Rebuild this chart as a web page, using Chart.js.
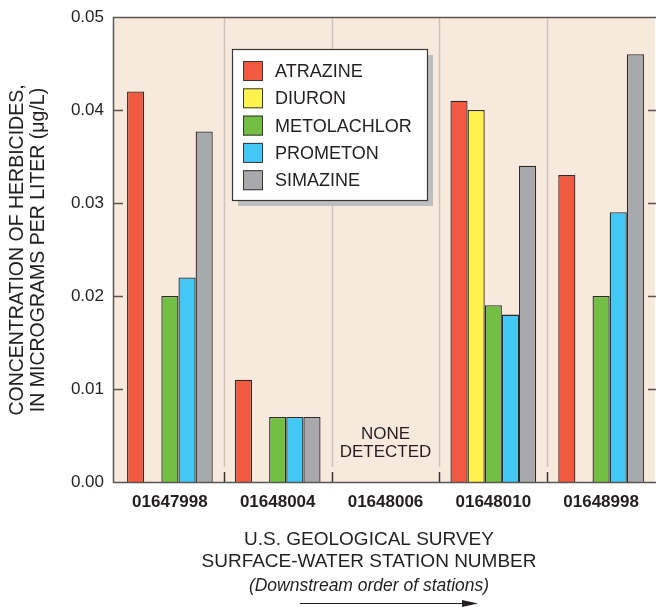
<!DOCTYPE html>
<html>
<head>
<meta charset="utf-8">
<script src="https://cdn.jsdelivr.net/npm/chart.js@4"></script>
<style>
  html, body { margin: 0; padding: 0; background: #ffffff; }
  #wrap { width: 656px; height: 607px; position: relative; }
</style>
</head>
<body>
<div id="wrap"><canvas id="c" width="656" height="607"></canvas></div>
<script>
// ---- data ----
const categories = ['01647998', '01648004', '01648006', '01648010', '01648998'];
const seriesNames = ['ATRAZINE', 'DIURON', 'METOLACHLOR', 'PROMETON', 'SIMAZINE'];
const atrazine    = [0.042, 0.011, null, 0.041, 0.033];
const diuron      = [null,  null,  null, 0.040, null];
const metolachlor = [0.020, 0.007, null, 0.019, 0.020];
const prometon    = [0.022, 0.007, null, 0.018, 0.029];
const simazine    = [0.0377, 0.007, null, 0.034, 0.046];
const yTickValues = [0, 0.01, 0.02, 0.03, 0.04, 0.05];
const noneDetectedCategory = '01648006';
const noneDetectedLines = ['NONE', 'DETECTED'];
const yTitleLines = ['CONCENTRATION OF HERBICIDES,', 'IN MICROGRAMS PER LITER (\u03BCg/L)'];
const xTitleLines = ['U.S. GEOLOGICAL SURVEY', 'SURFACE-WATER STATION NUMBER'];
const xSubtitle = '(Downstream order of stations)';

// ---- styles ----
const colors = ['#f15a40', '#fff24f', '#72bf44', '#43c7f4', '#a7a9ac'];
const FONT = '"Liberation Sans", Arial, Helvetica, sans-serif';
const TEXT = '#231f20';
const AXIS = '#5a5553';
const AXIS_X = 113;

const seriesValues = [atrazine, diuron, metolachlor, prometon, simazine];
const datasets = seriesNames.map((n, i) => ({
  label: n,
  data: seriesValues[i],
  backgroundColor: colors[i],
  borderColor: '#2e2a28',
  borderWidth: 1.3,
  borderSkipped: 'bottom',
  categoryPercentage: 0.795,
  barPercentage: 1.0
}));

const decor = {
  id: 'decor',
  beforeDraw(chart) {
    const { ctx, chartArea: a } = chart;
    ctx.save();
    ctx.fillStyle = '#f8e9dd';
    ctx.fillRect(AXIS_X, a.top, a.right - AXIS_X, a.bottom - a.top);
    ctx.restore();
  },
  beforeDatasetsDraw(chart) {
    const { ctx, chartArea: a, scales } = chart;
    const x = scales.x;
    ctx.save();
    for (let i = 1; i < categories.length; i++) {
      const px = Math.round((x.getPixelForTick(i - 1) + x.getPixelForTick(i)) / 2) + 0.5;
      ctx.strokeStyle = '#cbc4bd';
      ctx.lineWidth = 1.5;
      ctx.beginPath();
      ctx.moveTo(px, a.top);
      ctx.lineTo(px, a.bottom - 15);
      ctx.stroke();
      ctx.strokeStyle = '#3a3634';
      ctx.lineWidth = 1.5;
      ctx.beginPath();
      ctx.moveTo(px, a.bottom - 10);
      ctx.lineTo(px, a.bottom);
      ctx.stroke();
    }
    // NONE DETECTED
    const idx = categories.indexOf(noneDetectedCategory);
    const cx = x.getPixelForTick(idx);
    ctx.fillStyle = TEXT;
    ctx.font = '17px ' + FONT;
    ctx.textAlign = 'center';
    ctx.textBaseline = 'middle';
    ctx.fillText(noneDetectedLines[0], cx, a.bottom - 48);
    ctx.fillText(noneDetectedLines[1], cx, a.bottom - 30);
    ctx.restore();
  },
  afterDraw(chart) {
    const { ctx, chartArea: a, scales } = chart;
    const y = scales.y;
    ctx.save();
    // frame: top, left, bottom
    ctx.strokeStyle = AXIS;
    ctx.lineWidth = 1.5;
    const y0 = Math.round(y.getPixelForValue(0)) + 0.5;
    const yTop = Math.round(y.getPixelForValue(0.05)) + 0.5;
    ctx.beginPath();
    ctx.moveTo(a.right + 2, yTop);
    ctx.lineTo(AXIS_X + 0.5, yTop);
    ctx.lineTo(AXIS_X + 0.5, y0);
    ctx.lineTo(a.right + 2, y0);
    ctx.stroke();
    // inward ticks left & right
    yTickValues.forEach(v => {
      const py = Math.round(y.getPixelForValue(v)) + 0.5;
      if (v === 0 || v === 0.05) return;
      ctx.beginPath();
      ctx.moveTo(AXIS_X, py);
      ctx.lineTo(AXIS_X + 10, py);
      ctx.moveTo(a.right + 2, py);
      ctx.lineTo(a.right - 7, py);
      ctx.stroke();
    });
    // legend
    const lx = 232, ly = 49, lw = 195, lh = 151;
    ctx.fillStyle = '#bcbec0';
    ctx.fillRect(lx + 6, ly + 6, lw, lh);
    ctx.fillStyle = '#ffffff';
    ctx.fillRect(lx, ly, lw, lh);
    ctx.strokeStyle = '#3a3634';
    ctx.lineWidth = 1.2;
    ctx.strokeRect(lx + 0.5, ly + 0.5, lw, lh);
    chart.data.datasets.forEach((ds, i) => {
      const sy = 61 + i * 27.3;
      ctx.fillStyle = ds.backgroundColor;
      ctx.fillRect(243, sy, 20, 20);
      ctx.strokeStyle = '#3a3634';
      ctx.lineWidth = 1;
      ctx.strokeRect(243.5, sy + 0.5, 19, 19);
      ctx.fillStyle = TEXT;
      ctx.font = '18px ' + FONT;
      ctx.textAlign = 'left';
      ctx.textBaseline = 'middle';
      ctx.fillText(ds.label, 275, sy + 11);
    });
    // y title
    ctx.fillStyle = TEXT;
    ctx.font = '19.5px ' + FONT;
    ctx.textAlign = 'center';
    ctx.textBaseline = 'middle';
    ctx.save();
    ctx.translate(18, 250);
    ctx.rotate(-Math.PI / 2);
    ctx.fillText(yTitleLines[0], 0, 0);
    ctx.restore();
    ctx.save();
    ctx.translate(39, 250);
    ctx.rotate(-Math.PI / 2);
    ctx.fillText(yTitleLines[1], 0, 0);
    ctx.restore();
    // x titles
    const tx = 369;
    ctx.font = '19px ' + FONT;
    ctx.fillText(xTitleLines[0], tx, 540);
    ctx.fillText(xTitleLines[1], tx, 562);
    ctx.font = 'italic 17.5px ' + FONT;
    ctx.fillText(xSubtitle, tx, 586);
    // arrow
    ctx.strokeStyle = '#231f20';
    ctx.lineWidth = 1.2;
    ctx.beginPath();
    ctx.moveTo(300, 603.5);
    ctx.lineTo(466, 603.5);
    ctx.stroke();
    ctx.fillStyle = '#231f20';
    ctx.beginPath();
    ctx.moveTo(478, 603.5);
    ctx.lineTo(462, 600);
    ctx.lineTo(462, 607);
    ctx.closePath();
    ctx.fill();
    ctx.restore();
  }
};

new Chart(document.getElementById('c'), {
  type: 'bar',
  data: { labels: categories, datasets },
  options: {
    responsive: false,
    devicePixelRatio: 1,
    animation: false,
    layout: { padding: { top: 17, right: 1, left: 0, bottom: 0 } },
    plugins: { legend: { display: false }, tooltip: { enabled: false } },
    scales: {
      x: {
        type: 'category',
        grid: { display: false, drawTicks: false },
        border: { display: false },
        ticks: { color: TEXT, font: { family: FONT, size: 17, weight: 'bold' }, padding: 10 },
        afterFit(s) { s.height = 125; }
      },
      y: {
        min: 0, max: 0.05,
        afterBuildTicks(s) { s.ticks = yTickValues.map(v => ({ value: v })); },
        grid: { display: false, drawTicks: false },
        border: { display: false },
        ticks: { color: TEXT, font: { family: FONT, size: 17, lineHeight: 1 }, padding: 12,
                 callback: v => Number(v).toFixed(2) },
        afterFit(s) { s.width = 116; s.paddingTop = 0; s.paddingBottom = 0; }
      }
    }
  },
  plugins: [decor]
});
</script>
</body>
</html>
